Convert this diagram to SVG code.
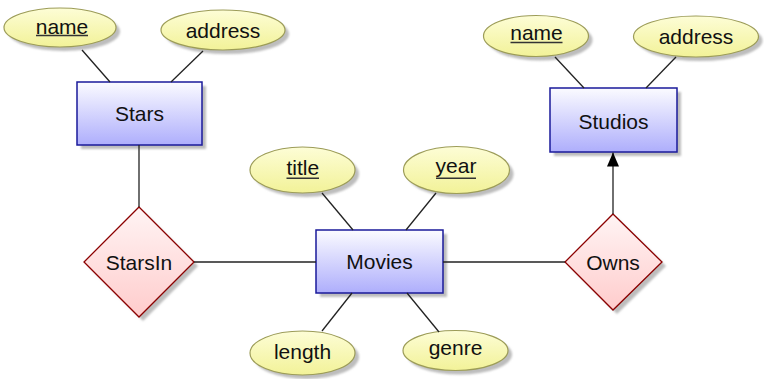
<svg xmlns="http://www.w3.org/2000/svg" width="764" height="379" viewBox="0 0 764 379">
  <defs>
    <linearGradient id="gEntity" x1="0" y1="0" x2="0" y2="1">
      <stop offset="0" stop-color="#fbfbff"/>
      <stop offset="1" stop-color="#aeaefc"/>
    </linearGradient>
    <linearGradient id="gAttr" x1="0" y1="0" x2="0" y2="1">
      <stop offset="0" stop-color="#fdfdd6"/>
      <stop offset="1" stop-color="#f2f298"/>
    </linearGradient>
    <linearGradient id="gRel" x1="0" y1="0" x2="0" y2="1">
      <stop offset="0" stop-color="#fff4f4"/>
      <stop offset="1" stop-color="#ffcccc"/>
    </linearGradient>
    <filter id="soft" x="-10%" y="-10%" width="120%" height="120%">
      <feGaussianBlur stdDeviation="0.8"/>
    </filter>
    <marker id="arrow" viewBox="0 0 14 12" refX="14" refY="6" markerWidth="14" markerHeight="12" markerUnits="userSpaceOnUse" orient="auto">
      <path d="M0,0 L14,6 L0,12 Z" fill="#000"/>
    </marker>
  </defs>
  <style>
    .shadow { fill: #bdbdbd; filter: url(#soft); }
    .entity { fill: url(#gEntity); stroke: #1a1a9a; stroke-width: 1.5; }
    .attr { fill: url(#gAttr); stroke: #9c9c58; stroke-width: 1.2; }
    .rel { fill: url(#gRel); stroke: #8b0000; stroke-width: 1.3; }
    .lbl { font-family: "Liberation Sans", Arial, Helvetica, sans-serif; font-size: 21px; fill: #111; text-anchor: middle; }
    .key { stroke: #333; stroke-width: 1.5; }
    .edge { stroke: #222; stroke-width: 1.3; fill: none; }
  </style>

  <!-- entities -->
  <g id="stars">
    <rect class="shadow" x="81" y="86" width="125" height="63"/>
    <rect class="entity" x="77" y="82" width="125" height="63"/>
    <text class="lbl" x="139.5" y="121">Stars</text>
  </g>
  <g id="studios">
    <rect class="shadow" x="554" y="92" width="127" height="64"/>
    <rect class="entity" x="550" y="88" width="127" height="64"/>
    <text class="lbl" x="613.5" y="128.5">Studios</text>
  </g>
  <g id="movies">
    <rect class="shadow" x="320" y="234" width="127" height="63"/>
    <rect class="entity" x="316" y="230" width="127" height="63"/>
    <text class="lbl" x="379.5" y="269">Movies</text>
  </g>

  <!-- relationships -->
  <g id="starsin">
    <path class="shadow" d="M143,211 L198,266 L143,321 L88,266 Z"/>
    <path class="rel" d="M139,207 L194,262 L139,317 L84,262 Z"/>
    <text class="lbl" x="139" y="269.5">StarsIn</text>
  </g>
  <g id="owns">
    <path class="shadow" d="M617,218 L666,266 L617,314 L569,266 Z"/>
    <path class="rel" d="M613,214 L662,262 L613,310 L565,262 Z"/>
    <text class="lbl" x="613" y="269.5">Owns</text>
  </g>

  <!-- attributes of Stars -->
  <g id="stars-name">
    <ellipse class="shadow" cx="64" cy="31.5" rx="56" ry="19.5"/>
    <ellipse class="attr" cx="60" cy="27.5" rx="56" ry="19.5"/>
    <text class="lbl" x="62" y="33.5">name</text>
    <line class="key" x1="36" y1="35.5" x2="88" y2="35.5"/>
  </g>
  <g id="stars-address">
    <ellipse class="shadow" cx="227" cy="34" rx="62" ry="20"/>
    <ellipse class="attr" cx="223" cy="30" rx="62" ry="20"/>
    <text class="lbl" x="223" y="37.5">address</text>
  </g>

  <!-- attributes of Studios -->
  <g id="studios-name">
    <ellipse class="shadow" cx="540" cy="40" rx="52.5" ry="20.5"/>
    <ellipse class="attr" cx="536" cy="36" rx="52.5" ry="20.5"/>
    <text class="lbl" x="536.5" y="40">name</text>
    <line class="key" x1="510.5" y1="42.5" x2="562.5" y2="42.5"/>
  </g>
  <g id="studios-address">
    <ellipse class="shadow" cx="700" cy="40.5" rx="62.5" ry="20.5"/>
    <ellipse class="attr" cx="696" cy="36.5" rx="62.5" ry="20.5"/>
    <text class="lbl" x="696" y="44">address</text>
  </g>

  <!-- attributes of Movies -->
  <g id="movies-title">
    <ellipse class="shadow" cx="306.5" cy="174" rx="52.5" ry="23"/>
    <ellipse class="attr" cx="302.5" cy="170" rx="52.5" ry="23"/>
    <text class="lbl" x="302.8" y="175">title</text>
    <line class="key" x1="286.5" y1="178.3" x2="319" y2="178.3"/>
  </g>
  <g id="movies-year">
    <ellipse class="shadow" cx="460.5" cy="174" rx="53" ry="23.5"/>
    <ellipse class="attr" cx="456.5" cy="170" rx="53" ry="23.5"/>
    <text class="lbl" x="456" y="173">year</text>
    <line class="key" x1="436" y1="178.3" x2="476" y2="178.3"/>
  </g>
  <g id="movies-length">
    <ellipse class="shadow" cx="306.5" cy="357" rx="52.5" ry="22"/>
    <ellipse class="attr" cx="302.5" cy="353" rx="52.5" ry="22"/>
    <text class="lbl" x="302.5" y="359">length</text>
  </g>
  <g id="movies-genre">
    <ellipse class="shadow" cx="459.5" cy="354.5" rx="52.5" ry="20"/>
    <ellipse class="attr" cx="455.5" cy="350.5" rx="52.5" ry="20"/>
    <text class="lbl" x="455.5" y="355">genre</text>
  </g>

  <!-- connectors, drawn over the drop shadows -->
  <g id="connectors">
    <line class="edge" x1="82" y1="50" x2="110" y2="82"/>
    <line class="edge" x1="203" y1="51" x2="171" y2="82"/>
    <line class="edge" x1="555" y1="57" x2="584" y2="88"/>
    <line class="edge" x1="676" y1="57" x2="646" y2="88"/>
    <line class="edge" x1="139" y1="145" x2="139" y2="207"/>
    <line class="edge" x1="194" y1="262" x2="316" y2="262"/>
    <line class="edge" x1="443" y1="262" x2="565" y2="262"/>
    <line class="edge" x1="613" y1="214" x2="613" y2="152.5" marker-end="url(#arrow)"/>
    <line class="edge" x1="322" y1="193" x2="353" y2="230"/>
    <line class="edge" x1="436" y1="193" x2="406" y2="230"/>
    <line class="edge" x1="352" y1="293" x2="322" y2="331"/>
    <line class="edge" x1="407" y1="293" x2="439" y2="332"/>
  </g>
</svg>
